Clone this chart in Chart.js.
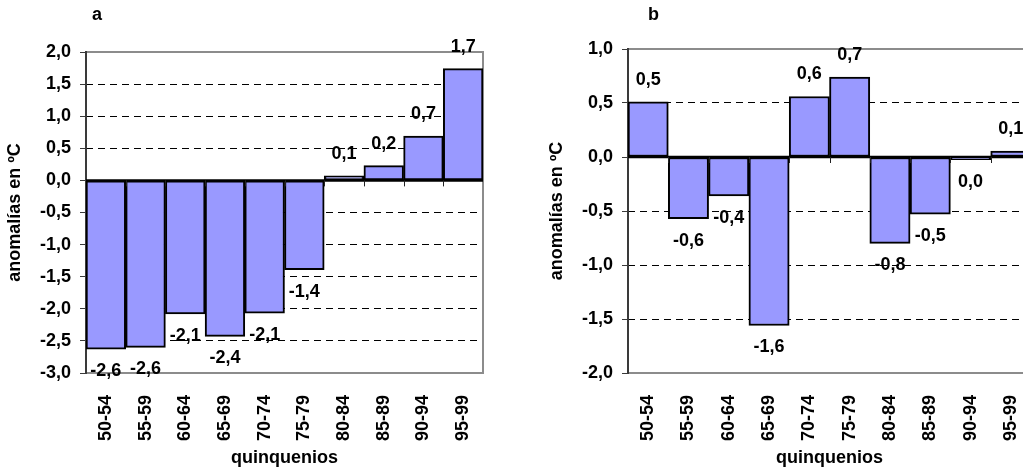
<!DOCTYPE html>
<html>
<head>
<meta charset="utf-8">
<script src="https://cdn.jsdelivr.net/npm/chart.js@4/dist/chart.umd.min.js"></script>
<style>
  html, body { margin: 0; padding: 0; background: #fff; overflow: hidden; width: 1023px; height: 472px; }
  canvas { position: absolute; top: 0; }
  #ca { left: 0; }
  #cb { left: 542px; }
</style>
</head>
<body>
<canvas id="ca" width="510" height="472"></canvas>
<canvas id="cb" width="516" height="472"></canvas>
<script>
// Five-year periods (quinquenios)
const categories = ['50-54', '55-59', '60-64', '65-69', '70-74', '75-79', '80-84', '85-89', '90-94', '95-99'];

// Temperature anomalies (ºC) per period, panel a and panel b
const anomaliesA = [-2.63, -2.60, -2.08, -2.43, -2.07, -1.39, 0.07, 0.23, 0.69, 1.74];
const anomaliesB = [0.51, -0.57, -0.36, -1.56, 0.56, 0.74, -0.80, -0.53, -0.025, 0.055];

// Value-axis tick values
const yTicksA = [-3.0, -2.5, -2.0, -1.5, -1.0, -0.5, 0.0, 0.5, 1.0, 1.5, 2.0];
const yTicksB = [-2.0, -1.5, -1.0, -0.5, 0.0, 0.5, 1.0];

const FONT_FAMILY = '"Liberation Sans", Arial, Helvetica, sans-serif';
const BOLD = (size) => ({ family: FONT_FAMILY, size: size, weight: 'bold' });

// Number with one decimal and a decimal comma; avoids "-0,0"
function fmt(v) {
  let r = Math.round(v * 10) / 10;
  if (r === 0) r = 0;
  return r.toFixed(1).replace('.', ',');
}

// Frame, zero line, category tick marks, value labels and panel letter
const decorPlugin = {
  id: 'decor',
  beforeDatasetsDraw(chart) {
    const { ctx, chartArea: { left, right, top, bottom } } = chart;
    ctx.save();
    ctx.strokeStyle = '#8c8c8c';
    ctx.lineWidth = 2;
    ctx.beginPath();
    ctx.moveTo(left, top);
    ctx.lineTo(right, top);
    ctx.lineTo(right, bottom);
    ctx.lineTo(left, bottom);
    ctx.stroke();
    ctx.strokeStyle = '#3a3a3a';
    ctx.beginPath();
    ctx.moveTo(left, top - 1);
    ctx.lineTo(left, bottom + 1);
    ctx.stroke();
    ctx.restore();
  },
  afterDatasetsDraw(chart, args, opts) {
    const { ctx, chartArea: { left, right } } = chart;
    const xs = chart.scales.x, ys = chart.scales.y;
    const y0 = ys.getPixelForValue(0);
    ctx.save();
    // zero line
    ctx.strokeStyle = '#000';
    ctx.lineWidth = 2.5;
    ctx.beginPath();
    ctx.moveTo(left, y0);
    ctx.lineTo(right, y0);
    ctx.stroke();
    // category boundary tick marks below the zero line
    ctx.lineWidth = 1;
    ctx.strokeStyle = '#222';
    const n = chart.data.labels.length;
    for (let i = 1; i < n; i++) {
      const x = Math.round((xs.getPixelForValue(i - 1) + xs.getPixelForValue(i)) / 2) + 0.5;
      ctx.beginPath();
      ctx.moveTo(x, y0);
      ctx.lineTo(x, y0 + 6);
      ctx.stroke();
    }
    // value labels
    ctx.fillStyle = '#000';
    ctx.font = 'bold 18px ' + FONT_FAMILY;
    ctx.textAlign = 'center';
    ctx.textBaseline = 'middle';
    const meta = chart.getDatasetMeta(0);
    const values = chart.data.datasets[0].data;
    meta.data.forEach((bar, i) => {
      const v = values[i];
      const y = v >= 0 ? bar.y - 22 : bar.y + 22;
      ctx.fillText(fmt(v), bar.x, y);
    });
    // panel letter
    ctx.textAlign = 'left';
    ctx.fillText(opts.letter, left + opts.letterDx, 15);
    ctx.restore();
  }
};

function makeChart(canvasId, values, yTicks, letter, letterDx, padTop) {
  const yMin = yTicks[0], yMax = yTicks[yTicks.length - 1];
  return new Chart(document.getElementById(canvasId), {
    type: 'bar',
    data: {
      labels: categories,
      datasets: [{
        data: values,
        backgroundColor: '#9999ff',
        borderColor: '#000',
        borderWidth: 2,
        borderSkipped: false,
        barPercentage: 1.0,
        categoryPercentage: 1.0
      }]
    },
    options: {
      responsive: false,
      animation: false,
      devicePixelRatio: 1,
      layout: { padding: { top: padTop, right: 27, left: 0, bottom: 0 } },
      plugins: {
        legend: { display: false },
        tooltip: { enabled: false },
        decor: { letter: letter, letterDx: letterDx }
      },
      scales: {
        x: {
          offset: true,
          grid: { display: false },
          border: { display: false },
          ticks: {
            autoSkip: false,
            minRotation: 90,
            maxRotation: 90,
            padding: 14,
            color: '#000',
            font: BOLD(18)
          },
          title: {
            display: true,
            text: 'quinquenios',
            color: '#000',
            font: BOLD(18),
            padding: { top: 0, bottom: 3 }
          },
          afterFit(scale) { scale.height = 99; }
        },
        y: {
          min: yMin,
          max: yMax,
          afterBuildTicks(scale) { scale.ticks = yTicks.map(v => ({ value: v })); },
          grid: {
            color: (c) => {
              const v = c.tick ? c.tick.value : null;
              return (v === 0 || v === yMin || v === yMax) ? 'rgba(0,0,0,0)' : '#000';
            },
            lineWidth: 1,
            tickColor: '#3a3a3a',
            tickLength: 6,
            tickWidth: 1
          },
          border: { display: false, dash: [7, 5] },
          ticks: {
            padding: 9,
            color: '#000',
            font: BOLD(18),
            callback: (v) => Number(v).toFixed(1).replace('.', ',')
          },
          title: {
            display: true,
            text: 'anomalías en ºC',
            color: '#000',
            font: BOLD(18),
            padding: { top: 4, bottom: 0 }
          },
          afterFit(scale) { scale.width = 86; }
        }
      }
    },
    plugins: [decorPlugin]
  });
}

makeChart('ca', anomaliesA, yTicksA, 'a', 6, 52);
makeChart('cb', anomaliesB, yTicksB, 'b', 20, 49);
</script>
</body>
</html>
